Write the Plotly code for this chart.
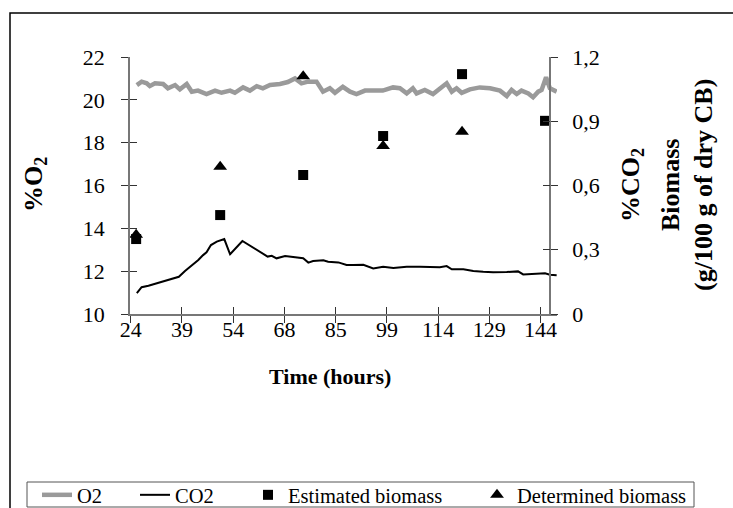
import plotly.graph_objects as go

# ---------------- data ----------------
x_tick_pos = [24, 39, 54, 69, 84, 99, 114, 129, 144]
x_tick_labels = ["24", "39", "54", "68", "85", "99", "114", "129", "144"]

o2_time_h = [25.8, 27.2, 28.7, 29.6, 31.1, 33.5, 34.9, 37.0, 38.4, 40.4, 41.9, 43.7,
             46.2, 48.7, 50.6, 53.1, 54.5, 56.9, 58.9, 60.9, 62.7, 64.8, 67.7, 70.0,
             72.1, 74.0, 75.9, 78.4, 80.3, 82.3, 83.8, 86.1, 88.2, 90.1, 92.6, 94.9,
             97.8, 100.8, 102.8, 104.8, 106.6, 107.7, 110.1, 112.5, 115.0, 116.5, 118.0,
             119.4, 120.9, 123.3, 126.2, 129.2, 132.1, 134.1, 135.5, 137.0, 138.4, 140.4,
             141.8, 143.3, 144.3, 145.6, 146.7, 148.7]
o2_pct = [20.69, 20.85, 20.77, 20.64, 20.77, 20.74, 20.54, 20.69, 20.49, 20.74, 20.38, 20.43,
          20.27, 20.43, 20.33, 20.43, 20.33, 20.58, 20.43, 20.64, 20.54, 20.69, 20.74, 20.83,
          21.00, 20.77, 20.85, 20.85, 20.38, 20.54, 20.33, 20.61, 20.38, 20.27, 20.43, 20.43,
          20.43, 20.58, 20.54, 20.30, 20.54, 20.30, 20.46, 20.27, 20.61, 20.77, 20.38,
          20.54, 20.33, 20.49, 20.58, 20.54, 20.43, 20.18, 20.46, 20.27, 20.43, 20.30,
          20.12, 20.38, 20.46, 21.05, 20.54, 20.38]

co2_time_h = [25.8, 27.2, 29.2, 32.1, 35.0, 37.0, 38.1, 39.9, 41.9, 43.8, 45.2, 46.2,
              47.5, 49.2, 51.4, 53.1, 56.7, 59.9, 62.3, 64.1, 65.3, 66.7, 69.2, 72.1,
              74.5, 76.0, 77.4, 80.4, 81.8, 84.8, 87.2, 89.2, 92.1, 95.0, 97.9, 100.9,
              104.8, 108.7, 111.6, 114.5, 116.5, 118.0, 121.4, 124.3, 127.2, 130.1, 134.1,
              137.4, 138.9, 141.8, 145.3, 146.7, 148.7]
co2_pct = [0.097, 0.125, 0.132, 0.146, 0.162, 0.171, 0.174, 0.201, 0.226, 0.252, 0.275, 0.288,
           0.322, 0.338, 0.350, 0.279, 0.341, 0.310, 0.283, 0.268, 0.272, 0.260, 0.271, 0.265,
           0.260, 0.240, 0.247, 0.251, 0.244, 0.241, 0.229, 0.229, 0.230, 0.213, 0.221, 0.215,
           0.221, 0.221, 0.218, 0.218, 0.224, 0.209, 0.209, 0.201, 0.197, 0.195, 0.196,
           0.199, 0.185, 0.187, 0.190, 0.183, 0.181]

est_time_h = [25.6, 50.2, 74.5, 97.9, 121.0, 145.3]
est_biomass = [0.35, 0.462, 0.649, 0.831, 1.12, 0.902]

det_time_h = [25.6, 50.2, 74.5, 97.9, 121.0]
det_biomass = [0.37, 0.688, 1.11, 0.784, 0.851]

y_left_ticks = [10, 12, 14, 16, 18, 20, 22]
y_right_ticks = [0, 0.3, 0.6, 0.9, 1.2]

# ---------------- geometry helpers (paper coords) ----------------
W, H = 733, 508
ML, MR, MT, MB = 130, 176, 57, 194
PW, PH = W - ML - MR, H - MT - MB


def px(x):
    return (x - ML) / PW


def py(y):
    return (H - MB - y) / PH


RIGHT_AXIS_POS = px(550)
FONT = "Liberation Serif"
xr = [23.8, 148.8]

fig = go.Figure()

fig.add_trace(go.Scatter(x=o2_time_h, y=o2_pct, name="O2", mode="lines",
                         line=dict(color="#9a9a9a", width=4.5), legend="legend5"))
fig.add_trace(go.Scatter(x=co2_time_h, y=co2_pct, name="CO2", mode="lines",
                         line=dict(color="black", width=2), yaxis="y2", legend="legend2"))
fig.add_trace(go.Scatter(x=det_time_h, y=det_biomass, name="Determined biomass", mode="markers",
                         marker=dict(symbol="triangle-up", size=12, color="black"),
                         yaxis="y2", legend="legend4"))
fig.add_trace(go.Scatter(x=est_time_h, y=est_biomass, name="Estimated biomass", mode="markers",
                         marker=dict(symbol="square", size=10, color="black"),
                         yaxis="y2", legend="legend3"))

# empty helper traces so the overlay axes (inner half of the crossing ticks) are drawn
for xa, ya in (("x2", "y"), ("x", "y3"), ("x", "y4")):
    fig.add_trace(go.Scatter(x=[], y=[], xaxis=xa, yaxis=ya, mode="lines",
                             showlegend=False, hoverinfo="skip"))

axis_common = dict(showgrid=False, zeroline=False)

legend_common = dict(orientation="h", yanchor="middle", y=py(495), xanchor="left",
                     bgcolor="rgba(0,0,0,0)", borderwidth=0,
                     font=dict(family=FONT, size=20.5, color="black"))

fig.update_layout(
    width=W, height=H,
    margin=dict(l=ML, r=MR, t=MT, b=MB, autoexpand=False),
    paper_bgcolor="white", plot_bgcolor="white",
    separators=",.",
    font=dict(family=FONT, color="black"),
    xaxis=dict(range=xr, tickmode="array", tickvals=x_tick_pos, ticktext=x_tick_labels,
               ticks="outside", ticklen=7, tickcolor="#333", tickwidth=1,
               showline=True, linecolor="#777", linewidth=1.5,
               tickfont=dict(family=FONT, size=22), ticklabelstandoff=-12, **axis_common),
    xaxis2=dict(range=xr, overlaying="x", anchor="y", side="bottom", tickmode="array",
                tickvals=x_tick_pos, ticks="inside", ticklen=7, tickcolor="#333",
                showticklabels=False, showline=False, **axis_common),
    yaxis=dict(range=[10, 22], tickmode="array", tickvals=y_left_ticks,
               ticks="outside", ticklen=7, tickcolor="#333",
               showline=True, linecolor="#777", linewidth=1.5,
               tickfont=dict(family=FONT, size=22), ticklabelstandoff=12, **axis_common),
    yaxis2=dict(range=[0, 1.2], overlaying="y", side="right", anchor="free",
                position=RIGHT_AXIS_POS, tickmode="array", tickvals=y_right_ticks,
                ticks="outside", ticklen=7, tickcolor="#333",
                showline=True, linecolor="#777", linewidth=1.5,
                tickfont=dict(family=FONT, size=22), ticklabelstandoff=10, **axis_common),
    yaxis3=dict(range=[10, 22], overlaying="y", side="left", anchor="x", tickmode="array",
                tickvals=y_left_ticks, ticks="inside", ticklen=7, tickcolor="#333",
                showticklabels=False, showline=False, **axis_common),
    yaxis4=dict(range=[0, 1.2], overlaying="y", side="right", anchor="free",
                position=RIGHT_AXIS_POS, tickmode="array", tickvals=y_right_ticks,
                ticks="inside", ticklen=7, tickcolor="#333",
                showticklabels=False, showline=False, **axis_common),
    showlegend=True,
    legend5=dict(x=px(37), **legend_common),
    legend2=dict(x=px(135), **legend_common),
    legend3=dict(x=px(248), **legend_common),
    legend4=dict(x=px(477), **legend_common),
)

annotations = [
    dict(text="<b>%O<sub>2</sub></b>", x=px(35), y=py(185), textangle=-90, size=26),
    dict(text="<b>%CO<sub>2</sub></b>", x=px(632), y=py(185), textangle=-90, size=26),
    dict(text="<b>Biomass</b>", x=px(670), y=py(185), textangle=-90, size=26),
    dict(text="<b>(g/100 g of dry CB)</b>", x=px(703), y=py(185), textangle=-90, size=26),
    dict(text="<b>Time (hours)</b>", x=px(330), y=py(376), textangle=0, size=22),
]
for a in annotations:
    fig.add_annotation(text=a["text"], x=a["x"], y=a["y"], xref="paper", yref="paper",
                       xanchor="center", yanchor="middle", showarrow=False,
                       textangle=a["textangle"], font=dict(family=FONT, size=a["size"], color="black"))

# outer chart frame and legend box
fig.add_shape(type="rect", xref="paper", yref="paper", x0=px(10), y0=py(530), x1=px(760), y1=py(13),
              line=dict(color="black", width=1.5), fillcolor="rgba(0,0,0,0)", layer="below")
fig.add_shape(type="rect", xref="paper", yref="paper", x0=px(27), y0=py(507), x1=px(694), y1=py(482),
              line=dict(color="#555", width=1), fillcolor="rgba(0,0,0,0)", layer="below")

fig.write_html("out.html")
